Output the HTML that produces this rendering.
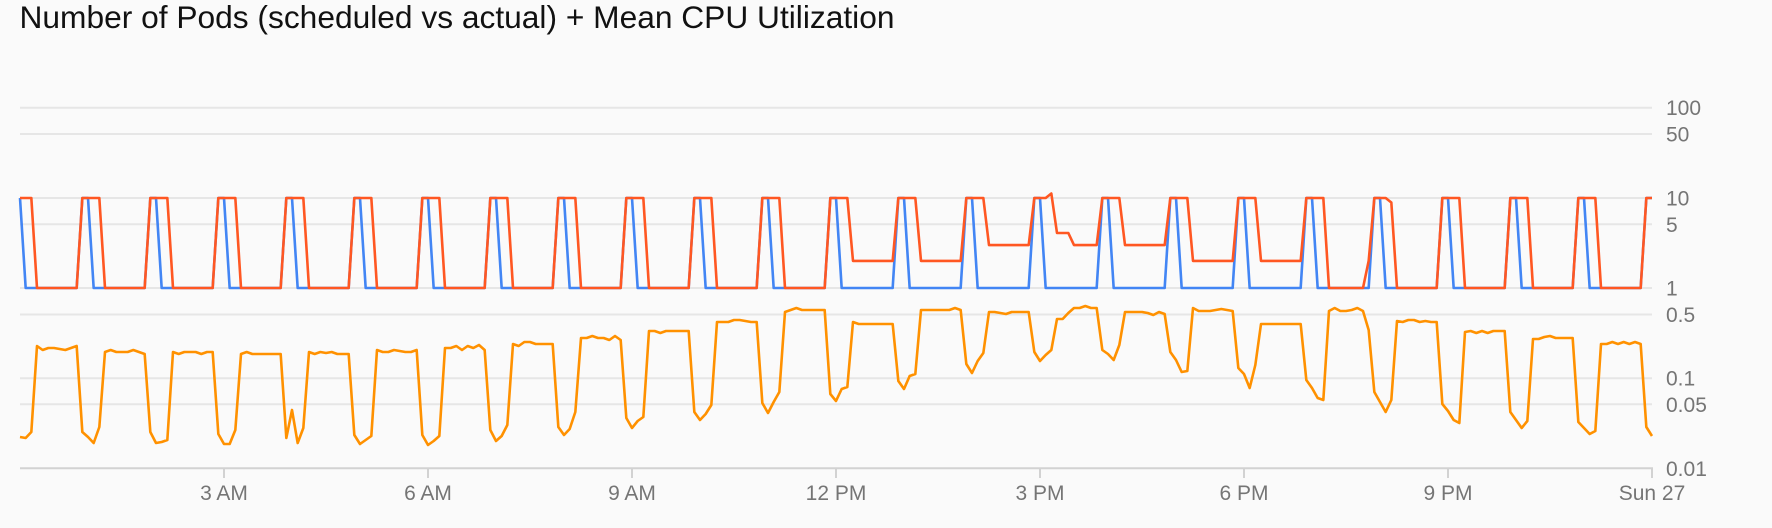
<!DOCTYPE html>
<html>
<head>
<meta charset="utf-8">
<style>
  html, body { margin:0; padding:0; background:#fafafa; }
  body { width:1772px; height:528px; overflow:hidden; }
  svg { display:block; }
  text { font-family: "Liberation Sans", Arial, sans-serif; }
</style>
</head>
<body>
<svg width="1772" height="528" viewBox="0 0 1772 528" xmlns="http://www.w3.org/2000/svg">
  <rect x="0" y="0" width="1772" height="528" fill="#fafafa"/>
  <text x="19.5" y="28" font-size="31.6" fill="#111" textLength="875" lengthAdjust="spacingAndGlyphs">Number of Pods (scheduled vs actual) + Mean CPU Utilization</text>

  <!-- gridlines -->
  <g stroke="#e6e6e6" stroke-width="2" fill="none">
    <line x1="20" y1="107.7" x2="1652" y2="107.7"/>
    <line x1="20" y1="134" x2="1652" y2="134"/>
    <line x1="20" y1="198" x2="1652" y2="198"/>
    <line x1="20" y1="224.3" x2="1652" y2="224.3"/>
    <line x1="20" y1="288" x2="1652" y2="288"/>
    <line x1="20" y1="314.5" x2="1652" y2="314.5"/>
    <line x1="20" y1="378.2" x2="1652" y2="378.2"/>
    <line x1="20" y1="404.3" x2="1652" y2="404.3"/>
  </g>
  <g stroke="#d2d2d2" stroke-width="2" fill="none">
    <line x1="20" y1="468.3" x2="1653" y2="468.3"/>
    <line x1="224" y1="468" x2="224" y2="478"/>
    <line x1="428" y1="468" x2="428" y2="478"/>
    <line x1="632" y1="468" x2="632" y2="478"/>
    <line x1="836" y1="468" x2="836" y2="478"/>
    <line x1="1040" y1="468" x2="1040" y2="478"/>
    <line x1="1244" y1="468" x2="1244" y2="478"/>
    <line x1="1448" y1="468" x2="1448" y2="478"/>
    <line x1="1652" y1="468" x2="1652" y2="478"/>
  </g>

  <!-- y labels -->
  <g font-size="21" fill="#757575">
    <text x="1666" y="115.2">100</text>
    <text x="1666" y="141.5">50</text>
    <text x="1666" y="205.5">10</text>
    <text x="1666" y="231.8">5</text>
    <text x="1666" y="295.5">1</text>
    <text x="1666" y="322">0.5</text>
    <text x="1666" y="385.7">0.1</text>
    <text x="1666" y="411.8">0.05</text>
    <text x="1666" y="475.8">0.01</text>
  </g>
  <!-- x labels -->
  <g font-size="21" fill="#757575" text-anchor="middle">
    <text x="224" y="500">3 AM</text>
    <text x="428" y="500">6 AM</text>
    <text x="632" y="500">9 AM</text>
    <text x="836" y="500">12 PM</text>
    <text x="1040" y="500">3 PM</text>
    <text x="1244" y="500">6 PM</text>
    <text x="1448" y="500">9 PM</text>
    <text x="1652" y="500">Sun 27</text>
  </g>

  <!-- blue: scheduled -->
  <polyline fill="none" stroke="#4285f4" stroke-width="2.6" stroke-linejoin="round" points="20,198 25.67,288 76.67,288 82.33,198 88,198 93.67,288 144.67,288 150.33,198 156,198 161.67,288 212.67,288 218.33,198 224,198 229.67,288 280.67,288 286.33,198 292,198 297.67,288 348.67,288 354.33,198 360,198 365.67,288 416.67,288 422.33,198 428,198 433.67,288 484.67,288 490.33,198 496,198 501.67,288 552.67,288 558.33,198 564,198 569.67,288 620.67,288 626.33,198 632,198 637.67,288 688.67,288 694.33,198 700,198 705.67,288 756.67,288 762.33,198 768,198 773.67,288 824.67,288 830.33,198 836,198 841.67,288 892.67,288 898.33,198 904,198 909.67,288 960.67,288 966.33,198 972,198 977.67,288 1028.67,288 1034.33,198 1040,198 1045.67,288 1096.67,288 1102.33,198 1108,198 1113.67,288 1164.67,288 1170.33,198 1176,198 1181.67,288 1232.67,288 1238.33,198 1244,198 1249.67,288 1300.67,288 1306.33,198 1312,198 1317.67,288 1368.67,288 1374.33,198 1380,198 1385.67,288 1436.67,288 1442.33,198 1448,198 1453.67,288 1504.67,288 1510.33,198 1516,198 1521.67,288 1572.67,288 1578.33,198 1584,198 1589.67,288 1640.67,288 1646.33,198 1652,198"/>

  <!-- red: actual -->
  <polyline fill="none" stroke="#ff5722" stroke-width="2.6" stroke-linejoin="round" points="20,198 31.33,198 37,288 76.67,288 82.33,198 99.33,198 105,288 144.67,288 150.33,198 167.33,198 173,288 212.67,288 218.33,198 235.33,198 241,288 280.67,288 286.33,198 303.33,198 309,288 348.67,288 354.33,198 371.33,198 377,288 416.67,288 422.33,198 439.33,198 445,288 484.67,288 490.33,198 507.33,198 513,288 552.67,288 558.33,198 575.33,198 581,288 620.67,288 626.33,198 643.33,198 649,288 688.67,288 694.33,198 711.33,198 717,288 756.67,288 762.33,198 779.33,198 785,288 824.67,288 830.33,198 847.33,198 853,260.9 892.67,260.9 898.33,198 915.33,198 921,260.9 960.67,260.9 966.33,198 983.33,198 989,245.1 1028.67,245.1 1034.33,198 1045.67,198 1051.33,193.5 1057,233 1068.33,233 1074,245.1 1096.67,245.1 1102.33,198 1119.33,198 1125,245.1 1164.67,245.1 1170.33,198 1187.33,198 1193,260.9 1232.67,260.9 1238.33,198 1255.33,198 1261,260.9 1300.67,260.9 1306.33,198 1323.33,198 1329,288 1363,288 1368.67,260.9 1374.33,198 1385.67,198 1391.33,202.5 1397,288 1436.67,288 1442.33,198 1459.33,198 1465,288 1504.67,288 1510.33,198 1527.33,198 1533,288 1572.67,288 1578.33,198 1595.33,198 1601,288 1640.67,288 1646.33,198 1652,198"/>

  <!-- orange: CPU -->
  <polyline fill="none" stroke="#ff9100" stroke-width="2.6" stroke-linejoin="round" points="20,437 25.67,438 31.33,432 37,346 42.67,350 48.33,348 54,348 59.67,349 65.33,350 71,348 76.67,346 82.33,432 88,437 93.67,443 99.33,427 105,352 110.67,350 116.33,352 122,352 127.67,352 133.33,350 139,352 144.67,354 150.33,432 156,443 161.67,442 167.33,440 173,352 178.67,354 184.33,352 190,352 195.67,352 201.33,354 207,352 212.67,352 218.33,434 224,444 229.67,444 235.33,430 241,354 246.67,352 252.33,354 258,354 263.67,354 269.33,354 275,354 280.67,354 286.33,438 292,410 297.67,443 303.33,428 309,352 314.67,354 320.33,352 326,353 331.67,352 337.33,354 343,354 348.67,354 354.33,435 360,444 365.67,440 371.33,436 377,350 382.67,352 388.33,352 394,350 399.67,351 405.33,352 411,352 416.67,350 422.33,435 428,445 433.67,441 439.33,436 445,348 450.67,348 456.33,346 462,350 467.67,346 473.33,348 479,345 484.67,350 490.33,430 496,441 501.67,436 507.33,425 513,344 518.67,346 524.33,342 530,342 535.67,344 541.33,344 547,344 552.67,344 558.33,427 564,435 569.67,429 575.33,412 581,338 586.67,338 592.33,336 598,338 603.67,338 609.33,340 615,336 620.67,340 626.33,418 632,428 637.67,421 643.33,417 649,331 654.67,331 660.33,333 666,331 671.67,331 677.33,331 683,331 688.67,331 694.33,412 700,420 705.67,414 711.33,405 717,322 722.67,322 728.33,322 734,320 739.67,320 745.33,321 751,322 756.67,322 762.33,403 768,413 773.67,402 779.33,392 785,312 790.67,310 796.33,308 802,310 807.67,310 813.33,310 819,310 824.67,310 830.33,394 836,401 841.67,389 847.33,387 853,322 858.67,324 864.33,324 870,324 875.67,324 881.33,324 887,324 892.67,324 898.33,381 904,389 909.67,376 915.33,374 921,310 926.67,310 932.33,310 938,310 943.67,310 949.33,310 955,308 960.67,310 966.33,364 972,373 977.67,361 983.33,353 989,312 994.67,312 1000.33,313 1006,314 1011.67,312 1017.33,312 1023,312 1028.67,312 1034.33,352 1040,361 1045.67,355 1051.33,350 1057,319 1062.67,319 1068.33,313 1074,308 1079.67,308 1085.33,306 1091,308 1096.67,308 1102.33,350 1108,354 1113.67,360 1119.33,345 1125,312 1130.67,312 1136.33,312 1142,312 1147.67,313 1153.33,315 1159,312 1164.67,314 1170.33,352 1176,360 1181.67,372 1187.33,371 1193,308 1198.67,311 1204.33,311 1210,311 1215.67,310 1221.33,309 1227,310 1232.67,311 1238.33,368 1244,374 1249.67,388 1255.33,365 1261,324 1266.67,324 1272.33,324 1278,324 1283.67,324 1289.33,324 1295,324 1300.67,324 1306.33,380 1312,388 1317.67,398 1323.33,400 1329,311 1334.67,308 1340.33,311 1346,311 1351.67,310 1357.33,308 1363,311 1368.67,330 1374.33,392 1380,402 1385.67,412 1391.33,400 1397,321 1402.67,322 1408.33,320 1414,320 1419.67,322 1425.33,321 1431,322 1436.67,322 1442.33,404 1448,411 1453.67,420 1459.33,423 1465,332 1470.67,331 1476.33,333 1482,331 1487.67,333 1493.33,331 1499,331 1504.67,331 1510.33,412 1516,420 1521.67,428 1527.33,421 1533,339 1538.67,339 1544.33,337 1550,336 1555.67,338 1561.33,338 1567,338 1572.67,338 1578.33,422 1584,428 1589.67,434 1595.33,431 1601,344 1606.67,344 1612.33,342 1618,344 1623.67,342 1629.33,344 1635,342 1640.67,344 1646.33,427 1652,436"/>
</svg>
</body>
</html>
